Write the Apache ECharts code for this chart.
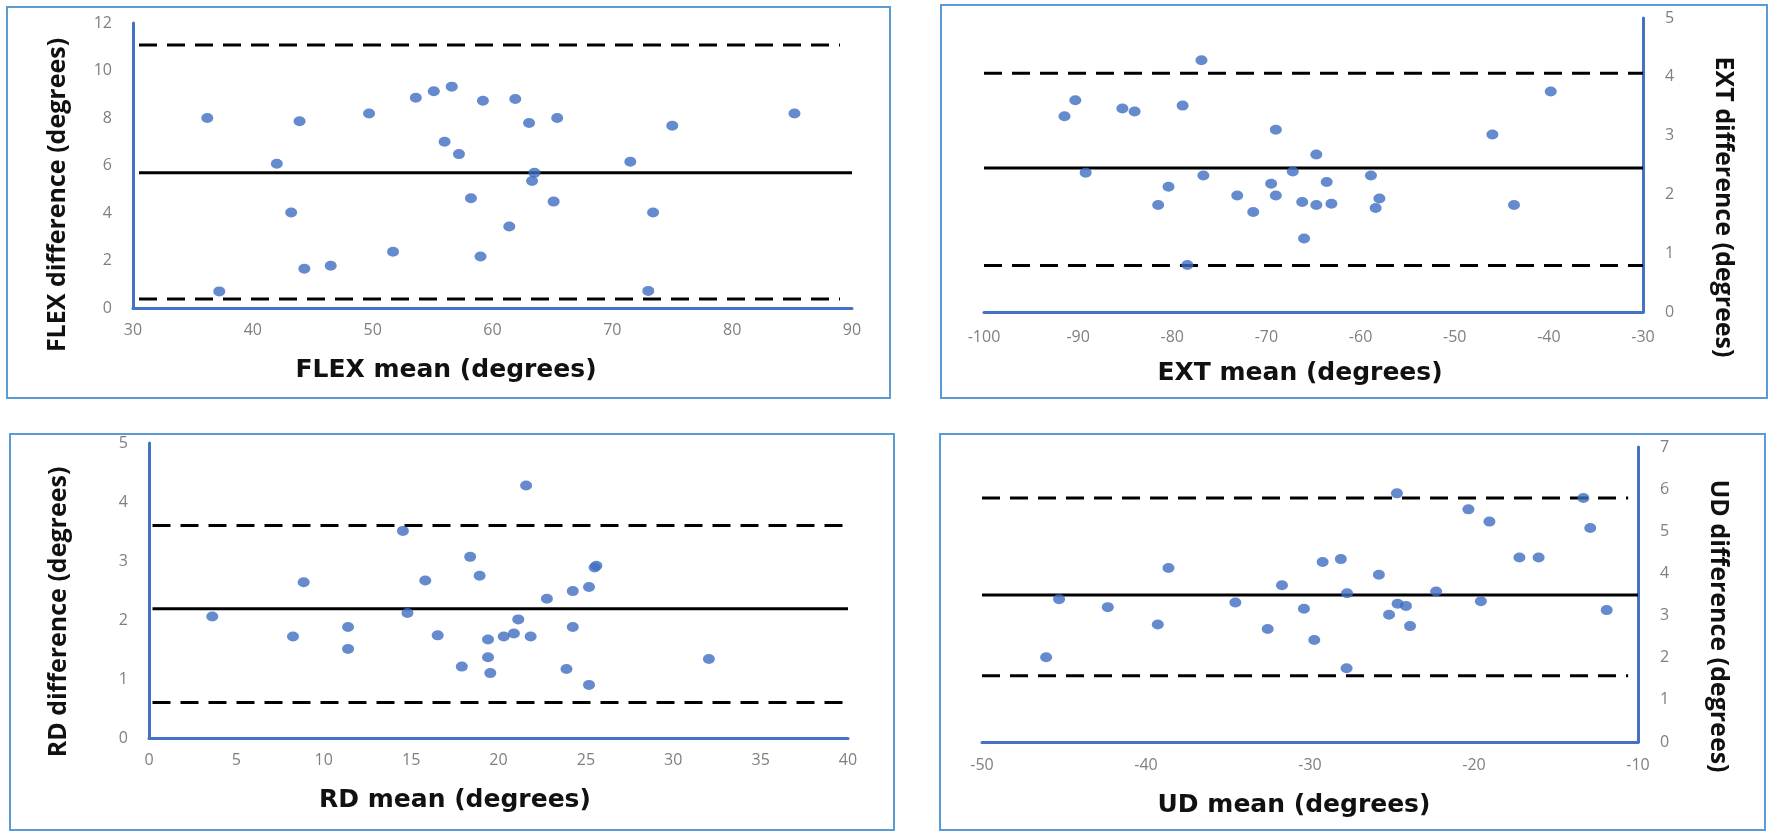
<!DOCTYPE html>
<html>
<head>
<meta charset="utf-8">
<script src="https://cdn.jsdelivr.net/npm/echarts@6/dist/echarts.min.js"></script>
<style>
html,body{margin:0;padding:0;background:#fff;}
#chart{width:1769px;height:831px;}
</style>
</head>
<body>
<div id="chart"></div>
<script>
// ---------- DATA ----------
const flexMean = [36.2, 37.2, 42.0, 43.2, 43.9, 44.3, 46.5, 49.7, 51.7, 53.6, 55.1, 56.0, 56.6, 57.2, 58.2, 59.0, 59.2, 61.4, 61.9, 63.05, 63.3, 63.5, 65.1, 65.4, 71.5, 73.0, 73.4, 75.0, 85.2];
const flexDiff = [8.0, 0.7, 6.07, 4.02, 7.86, 1.65, 1.78, 8.19, 2.37, 8.85, 9.13, 7.0, 9.32, 6.48, 4.62, 2.17, 8.73, 3.43, 8.8, 7.79, 5.35, 5.69, 4.48, 8.0, 6.16, 0.72, 4.02, 7.67, 8.19];
const flexLimits = [11.07, 5.69, 0.38];          // upper LoA, mean bias, lower LoA
const flexLineX = [30.5, 90, 89];                 // start, mean end, dashed end

const extMean = [-91.45, -90.3, -89.2, -85.3, -84.0, -81.5, -80.4, -78.9, -78.4, -76.9, -76.7, -73.1, -71.4, -69.5, -69.0, -69.0, -67.2, -66.2, -66.0, -64.7, -64.7, -63.6, -63.1, -58.9, -58.4, -58.0, -46.0, -43.7, -39.8];
const extDiff = [3.33, 3.60, 2.37, 3.46, 3.41, 1.82, 2.13, 3.51, 0.80, 4.28, 2.32, 1.98, 1.70, 2.18, 3.10, 1.98, 2.39, 1.87, 1.25, 2.68, 1.82, 2.21, 1.84, 2.32, 1.77, 1.93, 3.02, 1.82, 3.75];
const extLimits = [4.06, 2.45, 0.79];
const extLineX = [-100, -30, -30];

const rdMean = [3.62, 8.24, 8.85, 11.39, 11.39, 14.53, 14.79, 15.81, 16.52, 17.9, 18.38, 18.92, 19.4, 19.4, 19.53, 20.3, 20.88, 21.13, 21.58, 21.84, 22.77, 23.89, 24.25, 24.25, 25.18, 25.18, 25.5, 25.6, 32.04];
const rdDiff = [2.06, 1.72, 2.64, 1.88, 1.51, 3.51, 2.12, 2.67, 1.74, 1.21, 3.07, 2.75, 1.67, 1.37, 1.10, 1.72, 1.77, 2.01, 4.28, 1.72, 2.36, 1.17, 2.49, 1.88, 2.56, 0.90, 2.89, 2.92, 1.34];
const rdLimits = [3.60, 2.19, 0.60];
const rdLineX = [0.2, 40, 39.7];

const udMean = [-46.09, -45.3, -42.33, -39.28, -38.63, -34.55, -32.58, -31.71, -30.37, -29.74, -29.23, -28.12, -27.77, -27.74, -25.8, -25.18, -24.7, -24.66, -24.15, -23.9, -22.31, -20.34, -19.58, -19.06, -17.23, -16.06, -13.33, -12.91, -11.91];
const udDiff = [2.01, 3.39, 3.20, 2.79, 4.13, 3.31, 2.68, 3.72, 3.16, 2.42, 4.27, 4.34, 1.75, 3.53, 3.97, 3.02, 5.90, 3.28, 3.23, 2.75, 3.57, 5.52, 3.34, 5.23, 4.38, 4.38, 5.79, 5.08, 3.13];
const udLimits = [5.79, 3.49, 1.57];
const udLineX = [-50, -10, -10.6];

const xTitles = ['FLEX mean (degrees)', 'EXT mean (degrees)', 'RD mean (degrees)', 'UD mean (degrees)'];
const yTitles = ['FLEX difference (degrees)', 'EXT difference (degrees)', 'RD difference (degrees)', 'UD difference (degrees)'];
const xRanges = [[30, 90, 10], [-100, -30, 10], [0, 40, 5], [-50, -10, 10]];
const yRanges = [[0, 12, 2], [0, 5, 1], [0, 5, 1], [0, 7, 1]];

// ---------- LAYOUT / STYLE ----------
const AXIS_BLUE = '#4472C4';
const FRAME_BLUE = '#5B9BD5';
const DOT = '#3F6DC0';
const TICK = '#7f7f7f';

const grids = [
  {left: 133, top: 23, width: 719, height: 285},
  {left: 984, top: 18, width: 659, height: 294},
  {left: 149, top: 443, width: 699, height: 295},
  {left: 982, top: 447, width: 656, height: 295}
];
const yPos = ['left', 'right', 'left', 'right'];
const xLabelMargin = [14, 17, 14, 15];
const yLabelMargin = [21, 22, 21, 22];

const panels = [
  {mean: flexMean, diff: flexDiff, lim: flexLimits, lx: flexLineX},
  {mean: extMean, diff: extDiff, lim: extLimits, lx: extLineX},
  {mean: rdMean, diff: rdDiff, lim: rdLimits, lx: rdLineX},
  {mean: udMean, diff: udDiff, lim: udLimits, lx: udLineX}
];

const xAxes = [], yAxes = [], series = [];
panels.forEach((p, i) => {
  xAxes.push({
    type: 'value', gridIndex: i,
    min: xRanges[i][0], max: xRanges[i][1], interval: xRanges[i][2],
    axisLine: {show: true, onZero: false, lineStyle: {color: AXIS_BLUE, width: 3}},
    axisTick: {show: false}, splitLine: {show: false},
    axisLabel: {color: TICK, fontSize: 16, fontFamily: 'Open Sans', margin: xLabelMargin[i], showMinLabel: true, showMaxLabel: true}
  });
  yAxes.push({
    type: 'value', gridIndex: i, position: yPos[i],
    min: yRanges[i][0], max: yRanges[i][1], interval: yRanges[i][2],
    axisLine: {show: true, onZero: false, lineStyle: {color: AXIS_BLUE, width: 3}},
    axisTick: {show: false}, splitLine: {show: false},
    axisLabel: {color: TICK, fontSize: 16, fontFamily: 'Open Sans', margin: yLabelMargin[i], showMinLabel: true, showMaxLabel: true}
  });
  // limits of agreement (dashed) and mean bias (solid)
  [0, 2].forEach(k => {
    series.push({
      type: 'line', xAxisIndex: i, yAxisIndex: i, symbol: 'none', silent: true, z: 2,
      lineStyle: {color: '#000', width: 3, type: [18, 10]},
      data: [[p.lx[0], p.lim[k]], [p.lx[2], p.lim[k]]]
    });
  });
  series.push({
    type: 'line', xAxisIndex: i, yAxisIndex: i, symbol: 'none', silent: true, z: 2,
    lineStyle: {color: '#000', width: 3, type: 'solid'},
    data: [[p.lx[0], p.lim[1]], [p.lx[1], p.lim[1]]]
  });
  series.push({
    type: 'scatter', xAxisIndex: i, yAxisIndex: i, z: 5,
    symbol: 'circle', symbolSize: [12, 10],
    itemStyle: {color: DOT},
    data: p.mean.map((m, j) => [m, p.diff[j]])
  });
});

// frames and axis titles
const frames = [
  [7, 7, 883, 391],
  [941, 5, 826, 393],
  [10, 434, 884, 396],
  [940, 434, 825, 396]
];
const xTitlePos = [[446, 370], [1300, 373], [455, 800], [1294, 805]];
const yTitlePos = [[58, 195], [1723, 207], [59, 612], [1718, 626]];
const yTitleRot = [Math.PI / 2, -Math.PI / 2, Math.PI / 2, -Math.PI / 2];

const graphic = [];
frames.forEach(f => {
  graphic.push({type: 'rect', shape: {x: f[0], y: f[1], width: f[2], height: f[3]},
    style: {fill: 'none', stroke: FRAME_BLUE, lineWidth: 2}, silent: true, z: 0});
});
xTitles.forEach((t, i) => {
  graphic.push({type: 'text', x: xTitlePos[i][0], y: xTitlePos[i][1],
    style: {text: t, x: 0, y: 0, align: 'center', verticalAlign: 'middle',
      font: 'bold 25px "DejaVu Sans"', fill: '#111'}, silent: true});
});
yTitles.forEach((t, i) => {
  graphic.push({type: 'text', x: yTitlePos[i][0], y: yTitlePos[i][1], rotation: yTitleRot[i],
    style: {text: t, x: 0, y: 0, align: 'center', verticalAlign: 'middle',
      font: 'bold 25px "Open Sans"', fill: '#111'}, silent: true});
});

const chart = echarts.init(document.getElementById('chart'), null, {renderer: 'canvas'});
chart.setOption({
  animation: false,
  backgroundColor: '#fff',
  grid: grids,
  xAxis: xAxes,
  yAxis: yAxes,
  series: series,
  graphic: graphic
});
</script>
</body>
</html>
